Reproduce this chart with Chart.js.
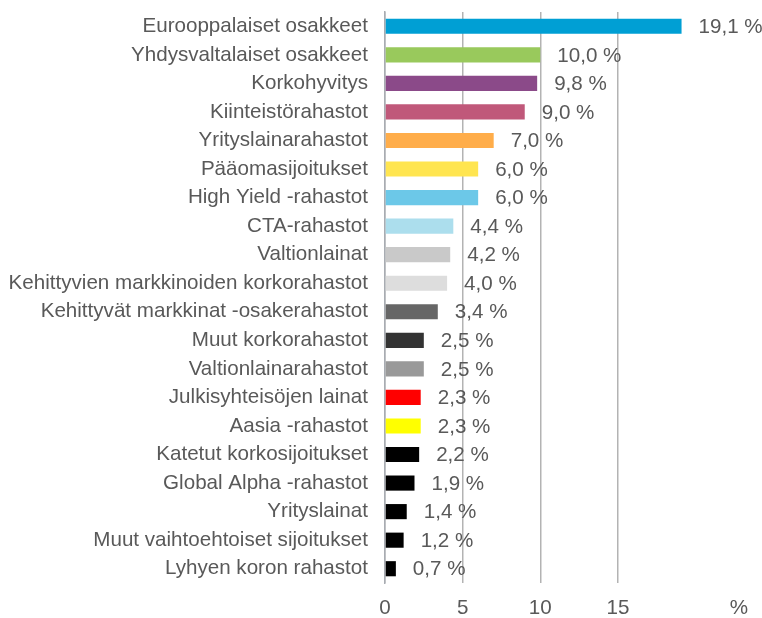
<!DOCTYPE html>
<html>
<head>
<meta charset="utf-8">
<script src="https://cdn.jsdelivr.net/npm/chart.js@4/dist/chart.umd.min.js"></script>
<style>
  html, body { margin: 0; padding: 0; background: #fff; }
  #wrap { width: 762px; height: 618px; position: relative; }
</style>
</head>
<body>
<div id="wrap"><canvas id="allocChart"></canvas></div>
<script>
// Data
const categories = [
    'Eurooppalaiset osakkeet',
    'Yhdysvaltalaiset osakkeet',
    'Korkohyvitys',
    'Kiinteistörahastot',
    'Yrityslainarahastot',
    'Pääomasijoitukset',
    'High Yield -rahastot',
    'CTA-rahastot',
    'Valtionlainat',
    'Kehittyvien markkinoiden korkorahastot',
    'Kehittyvät markkinat -osakerahastot',
    'Muut korkorahastot',
    'Valtionlainarahastot',
    'Julkisyhteisöjen lainat',
    'Aasia -rahastot',
    'Katetut korkosijoitukset',
    'Global Alpha -rahastot',
    'Yrityslainat',
    'Muut vaihtoehtoiset sijoitukset',
    'Lyhyen koron rahastot'
];
const shares = [19.1, 10.0, 9.8, 9.0, 7.0, 6.0, 6.0, 4.4, 4.2, 4.0, 3.4, 2.5, 2.5, 2.3, 2.3, 2.2, 1.9, 1.4, 1.2, 0.7];
const barColors = [
    '#009fd4', '#99c95c', '#8b4a89', '#c0587a', '#ffad4a', '#ffe550', '#6cc8e8',
    '#acdeed', '#c9c9c9', '#dddddd', '#666666', '#333333', '#999999', '#ff0000',
    '#ffff00', '#000000', '#000000', '#000000', '#000000', '#000000'
];
const xTicks = [0, 5, 10, 15];
const xMax = 22.8;   // where the "%" unit label sits

const textColor = '#595959';
const font = { family: '"Liberation Sans", Arial, sans-serif', size: 20.6 };

// value labels to the right of each bar
const valueLabels = {
    id: 'valueLabels',
    afterDatasetsDraw(chart) {
        const ctx = chart.ctx;
        const meta = chart.getDatasetMeta(0);
        ctx.save();
        ctx.font = font.size + 'px ' + font.family;
        ctx.fillStyle = textColor;
        ctx.textAlign = 'left';
        ctx.textBaseline = 'middle';
        meta.data.forEach((bar, i) => {
            const txt = shares[i].toFixed(1).replace('.', ',') + ' %';
            ctx.fillText(txt, bar.x + 17, bar.y + 1);
        });
        ctx.restore();
    }
};

new Chart(document.getElementById('allocChart'), {
    type: 'bar',
    data: {
        labels: categories,
        datasets: [{
            data: shares,
            backgroundColor: barColors,
            borderWidth: 0,
            barPercentage: 0.53,
            categoryPercentage: 1
        }]
    },
    options: {
        indexAxis: 'y',
        responsive: true,
        maintainAspectRatio: false,
        animation: false,
        layout: { padding: { top: 12, right: 23, bottom: 0, left: 0 } },
        plugins: { legend: { display: false }, tooltip: { enabled: false } },
        scales: {
            x: {
                min: 0,
                max: xMax,
                afterBuildTicks: (scale) => {
                    scale.ticks = xTicks.concat([xMax]).map(v => ({ value: v }));
                },
                afterFit: (scale) => { scale.height = 35; },
                ticks: {
                    color: textColor,
                    font: font,
                    padding: 13,
                    autoSkip: false,
                    maxRotation: 0,
                    callback: (v) => v === xMax ? '%' : v
                },
                grid: {
                    color: (c) => (c.tick && c.tick.value > 15) ? 'rgba(0,0,0,0)' : '#b3b3b3',
                    lineWidth: 1.5,
                    drawTicks: false
                },
                border: { display: false }
            },
            y: {
                afterFit: (scale) => {
                    scale.width = 385;
                    scale.paddingTop = 0;
                    scale.paddingBottom = 0;
                },
                ticks: { color: textColor, font: font, padding: 17, autoSkip: false },
                grid: { display: false, drawTicks: false },
                border: { color: '#a8acb2', width: 1.5 }
            }
        }
    },
    plugins: [valueLabels]
});
</script>
</body>
</html>
